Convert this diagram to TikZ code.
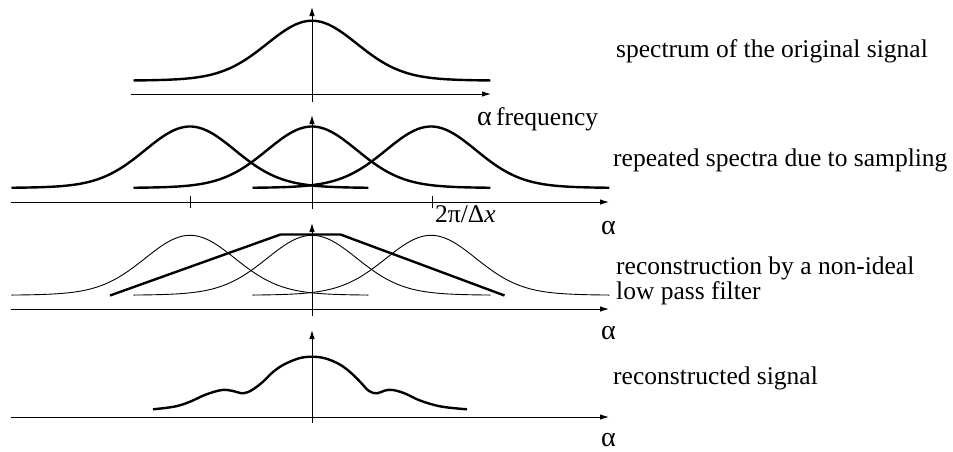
\documentclass[tikz,border=0pt]{standalone}
\usepackage{fontspec}
\setmainfont{Liberation Serif}
\usetikzlibrary{arrows.meta}
\newcommand\gaussbump[4]{%
  \draw[#1] plot[domain=-1.785:1.785,samples=100,smooth]
    ({#2+100*\x},{#3-#4*(0.9*exp(-2.583*\x*\x)+0.1*exp(-1.0204*\x*\x))});}
\newcommand\alphalbl{{\fontsize{28}{30}\selectfont α}}
\begin{document}
\begin{tikzpicture}[x=1pt,y=-1pt,
  axis/.style={line width=1pt,-{Latex[length=9pt,width=5.5pt]}},
  plain/.style={line width=1pt},
  curve/.style={line width=2.4pt,line join=round},
  thincurve/.style={line width=0.9pt},
  lbl/.style={anchor=base west,inner sep=0pt,font=\fontsize{25.5}{30}\selectfont},
]
\useasboundingbox (0,0) rectangle (953,451);

% ---------- panel 1 ----------
\coordinate (h1l) at (131,94);
\coordinate (h1r) at (491,94);
\coordinate (v1b) at (312,102);
\coordinate (v1t) at (312,7);
\draw[axis] (h1l) -- (h1r);
\draw[axis] (v1b) -- (v1t);
\gaussbump{curve}{312}{80.7}{60}
\node[lbl] (t1) at (616,57.5) {spectrum of the original signal};
\node[lbl] (f1) at (477,125) {\alphalbl\,frequency};

% ---------- panel 2 ----------
\coordinate (h2l) at (11,202);
\coordinate (h2r) at (609,202);
\coordinate (v2b) at (312,209);
\coordinate (v2t) at (312,115);
\draw[axis] (h2l) -- (h2r);
\draw[axis] (v2b) -- (v2t);
\coordinate (k1t) at (190,196); \coordinate (k1b) at (190,208);
\coordinate (k2t) at (432,196); \coordinate (k2b) at (432,208);
\draw[plain] (k1t) -- (k1b);
\draw[plain] (k2t) -- (k2b);
\gaussbump{curve}{190}{188}{61.5}
\gaussbump{curve}{312}{188}{61.5}
\gaussbump{curve}{431}{188}{61.5}
\node[lbl] (t2) at (613,166) {repeated spectra due to sampling};
\node[lbl] (p2) at (435,222) {2π/Δ\textit{x}};
\node[lbl] (a2) at (601,234) {\alphalbl};

% ---------- panel 3 ----------
\coordinate (h3l) at (11,309);
\coordinate (h3r) at (609,309);
\coordinate (v3b) at (312,316);
\coordinate (v3t) at (312,223);
\draw[axis] (h3l) -- (h3r);
\draw[axis] (v3b) -- (v3t);
\gaussbump{thincurve}{190}{295.3}{60}
\gaussbump{thincurve}{312}{295.3}{60}
\gaussbump{thincurve}{431}{295.3}{60}
\coordinate (z1) at (110,295.5);
\coordinate (z2) at (280.5,234.5);
\coordinate (z3) at (340.5,234.5);
\coordinate (z4) at (504.5,295.5);
\draw[curve] (z1) -- (z2) -- (z3) -- (z4);
\node[lbl] (t3a) at (616,274) {reconstruction by a non-ideal};
\node[lbl] (t3b) at (616,299) {low pass filter};
\node[lbl] (a3) at (601,339) {\alphalbl};

% ---------- panel 4 ----------
\coordinate (h4l) at (11,417);
\coordinate (h4r) at (609,417);
\coordinate (v4b) at (312,423);
\coordinate (v4t) at (312,330);
\draw[axis] (h4l) -- (h4r);
\draw[axis] (v4b) -- (v4t);
\draw[curve] plot[smooth,tension=0.6] coordinates {
  (153,409.3) (175,406.5) (190,401.7) (206,394.5) (222,390) (233,391) (243,393.3)
  (252,390) (263,381.7) (273,372) (284,364.5) (299,358.3) (312,356.7)
  (325,358.3) (339,364) (350,372) (360,381.7) (369,391) (377,393.3) (385,390.5)
  (393,390) (405,393.5) (420,400.5) (441,406.5) (467,409.3)};
\node[lbl] (t4) at (613,384) {reconstructed signal};
\node[lbl] (a4) at (601,446) {\alphalbl};
\end{tikzpicture}
\end{document}
